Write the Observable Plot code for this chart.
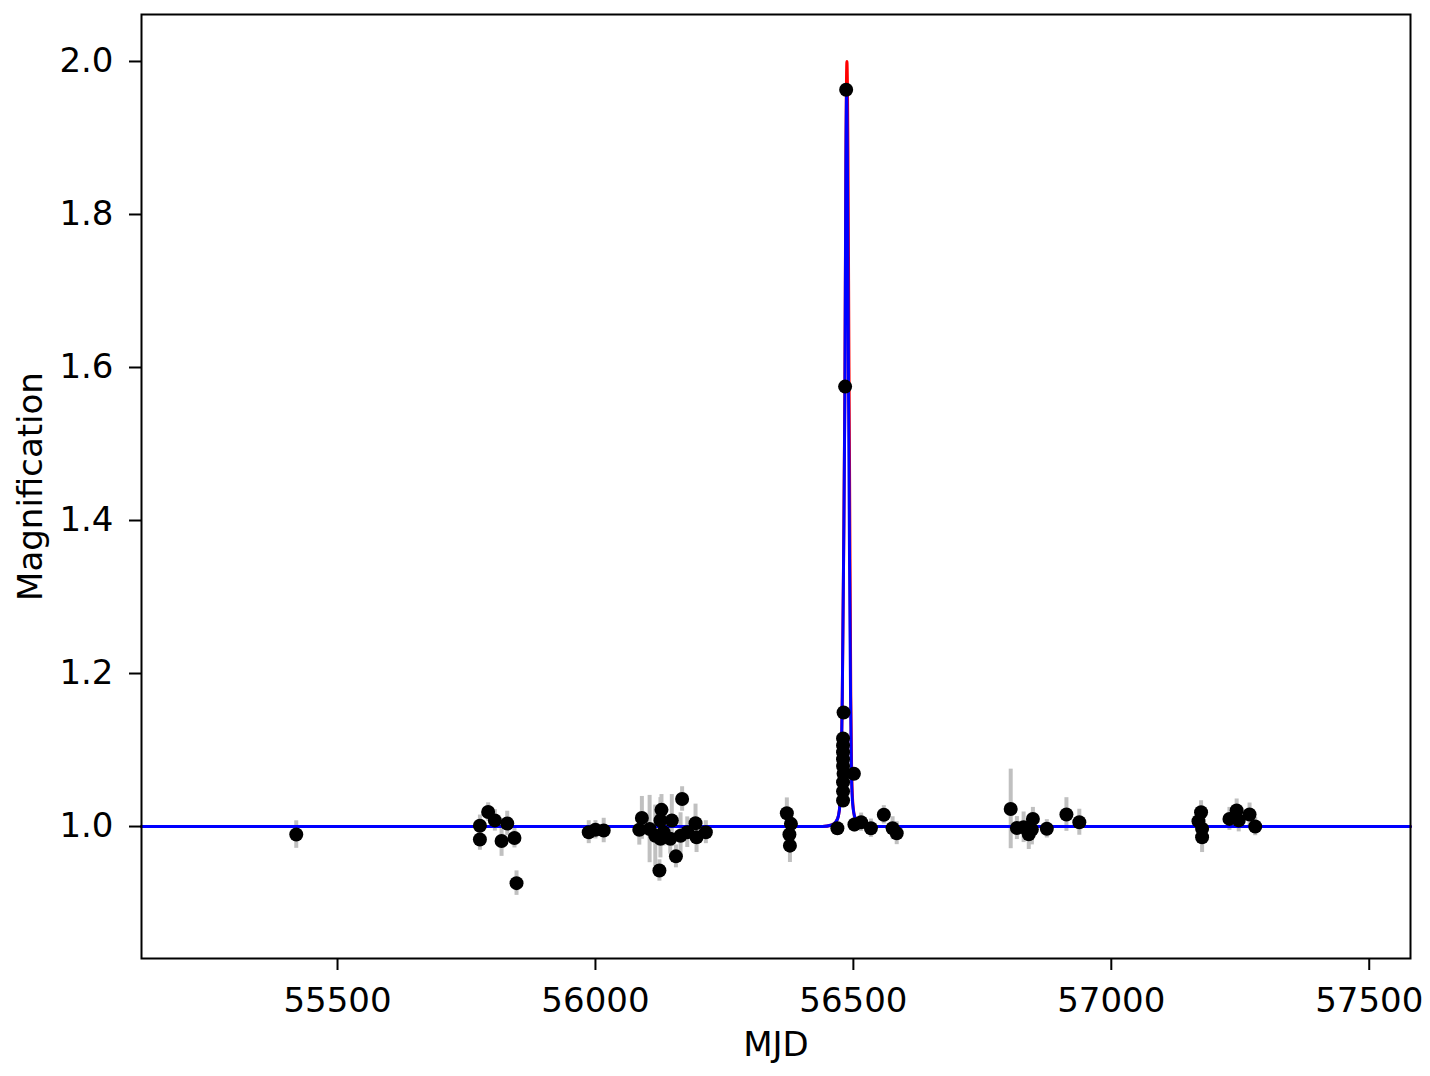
<!DOCTYPE html>
<html>
<head>
<meta charset="utf-8">
<script src="https://cdn.jsdelivr.net/npm/d3@7"></script>
<script src="https://cdn.jsdelivr.net/npm/@observablehq/plot@0.6"></script>
<style>
  html, body { margin: 0; padding: 0; background: #fff; }
  #chart svg { display: block; }
</style>
</head>
<body>
<div id="chart"></div>
<script>
// Observed points (MJD, magnification, 1-sigma error)
const obsMJD = [
  55420,
  55776, 55776, 55792, 55805, 55829, 55818, 55843, 55847,
  55987, 56000, 56016, 56090, 56085, 56105, 56128, 56126, 56126, 56148, 56145, 56132, 56116, 56168, 56156, 56124, 56194, 56196, 56178, 56214, 56165,
  56371, 56379, 56376, 56377,
  56469, 56481, 56480, 56480, 56480, 56480, 56480, 56481, 56480, 56480, 56480, 56484, 56486, 56501, 56502, 56515, 56534, 56559, 56576, 56584,
  56805, 56817, 56830, 56840, 56848, 56846, 56875, 56913, 56938,
  57174, 57169, 57176, 57176, 57229, 57243, 57247, 57268, 57279
];
const obsMag = [
  0.9895,
  1.001, 0.983, 1.019, 1.008, 1.004, 0.981, 0.985, 0.926,
  0.9926, 0.9957, 0.9948, 1.0113, 0.9957, 0.9967, 1.0218, 1.0078, 0.984, 1.0078, 0.984, 0.9926, 0.988, 1.036, 0.961, 0.9425, 1.0043, 0.986, 0.9926, 0.9926, 0.988,
  1.0174, 1.0035, 0.9895, 0.975,
  0.9978, 1.149, 1.115, 1.106, 1.097, 1.088, 1.079, 1.069, 1.058, 1.046, 1.034, 1.575, 1.963, 1.069, 1.0026, 1.0056, 0.9978, 1.0153, 0.9978, 0.9913,
  1.023, 0.998, 0.999, 0.990, 1.010, 0.996, 0.997, 1.0157, 1.0056,
  1.0187, 1.007, 0.997, 0.986, 1.010, 1.021, 1.008, 1.0157, 1.000
];
const obsErr = [
  0.018,
  0.014, 0.014, 0.012, 0.014, 0.016, 0.020, 0.013, 0.016,
  0.015, 0.012, 0.016, 0.028, 0.020, 0.044, 0.020, 0.030, 0.025, 0.034, 0.020, 0.018, 0.040, 0.016, 0.015, 0.014, 0.025, 0.020, 0.020, 0.015, 0.030,
  0.020, 0.018, 0.018, 0.022,
  0.008, 0.006, 0.006, 0.006, 0.006, 0.006, 0.006, 0.006, 0.006, 0.006, 0.006, 0.008, 0.008, 0.008, 0.010, 0.012, 0.012, 0.012, 0.015, 0.015,
  0.052, 0.015, 0.020, 0.020, 0.015, 0.020, 0.012, 0.022, 0.017,
  0.015, 0.015, 0.018, 0.020, 0.015, 0.015, 0.015, 0.015, 0.012
];

// Model curves (MJD, magnification)
const redMJD = [55120, 56440, 56458, 56466, 56471, 56474, 56476.5, 56478.5, 56481, 56483.5, 56485.5, 56487.5, 56489.5, 56491.5, 56493.5, 56495, 56496.5, 56498.5, 56502, 56508, 56516, 56540, 57580];
const redMag = [1.0, 1.0, 1.002, 1.006, 1.014, 1.030, 1.08, 1.17, 1.35, 1.57, 1.88, 2.0, 1.88, 1.60, 1.35, 1.17, 1.08, 1.035, 1.014, 1.005, 1.002, 1.0, 1.0];
const blueMJD = [55120, 56440, 56458, 56466, 56471, 56474, 56476.5, 56478.5, 56481, 56483.5, 56485.5, 56487, 56488.5, 56490.5, 56492.5, 56494.5, 56496, 56498, 56502, 56508, 56516, 56540, 57580];
const blueMag = [1.0, 1.0, 1.002, 1.006, 1.014, 1.030, 1.08, 1.17, 1.35, 1.56, 1.86, 1.965, 1.86, 1.58, 1.35, 1.17, 1.08, 1.035, 1.014, 1.005, 1.002, 1.0, 1.0];

const xTicks = [55500, 56000, 56500, 57000, 57500];
const yTicks = [1.0, 1.2, 1.4, 1.6, 1.8, 2.0];

const obs = obsMJD.map((m, i) => ({mjd: m, mag: obsMag[i], err: obsErr[i]}));
const red = redMJD.map((m, i) => ({mjd: m, mag: redMag[i]}));
const blue = blueMJD.map((m, i) => ({mjd: m, mag: blueMag[i]}));

const FONT = "DejaVu Sans, Verdana, sans-serif";
const FS = 34;

const chart = Plot.plot({
  width: 1430,
  height: 1076,
  marginLeft: 141,
  marginRight: 20,
  marginTop: 14,
  marginBottom: 118,
  style: {fontFamily: FONT, fontSize: FS + "px", color: "#000", background: "#fff", overflow: "visible"},
  x: {domain: [55120, 57580]},
  y: {domain: [0.8275, 2.0614]},
  marks: [
    Plot.ruleX(obs, {x: "mjd", y1: d => d.mag - d.err, y2: d => d.mag + d.err, stroke: "#c0c0c0", strokeWidth: 4}),
    Plot.line(red, {x: "mjd", y: "mag", stroke: "#ff0000", strokeWidth: 3, curve: "monotone-x"}),
    Plot.line(blue, {x: "mjd", y: "mag", stroke: "#0000ff", strokeWidth: 3, curve: "monotone-x"}),
    Plot.dot(obs, {x: "mjd", y: "mag", r: 7, fill: "#000", stroke: "none"}),
    Plot.frame({stroke: "#000", strokeWidth: 2}),
    Plot.axisX({ticks: xTicks, tickFormat: d => String(d), tickSize: 12, tickPadding: 17, strokeWidth: 2, fontSize: FS, label: null}),
    Plot.axisY({ticks: yTicks, tickFormat: d3.format(".1f"), tickSize: 12, tickPadding: 16, strokeWidth: 2, fontSize: FS, label: null}),
    Plot.text(["MJD"], {text: d => d, frameAnchor: "bottom", dy: 97, fontSize: FS, fill: "#000"}),
    Plot.text(["Magnification"], {text: d => d, frameAnchor: "left", textAnchor: "middle", dx: -110, rotate: -90, fontSize: FS, fill: "#000"})
  ]
});
document.getElementById("chart").appendChild(chart);
</script>
</body>
</html>
